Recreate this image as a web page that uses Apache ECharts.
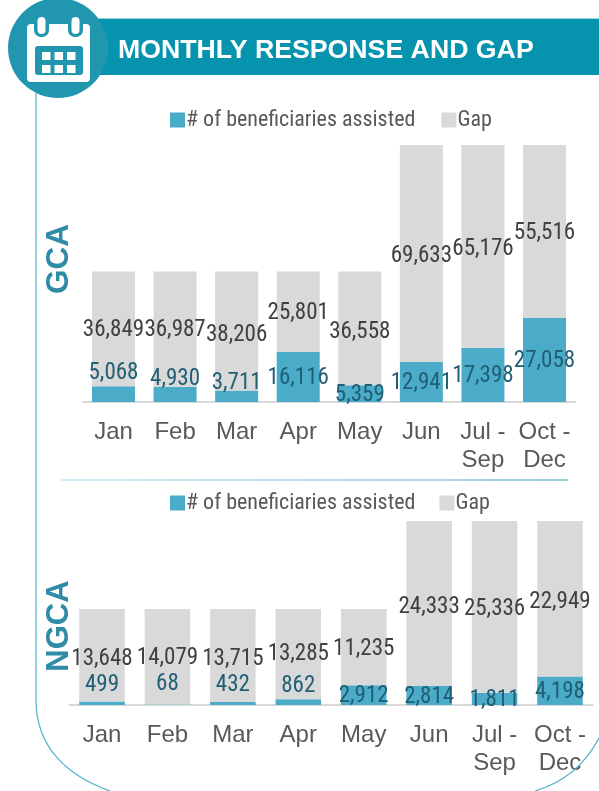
<!DOCTYPE html>
<html>
<head>
<meta charset="utf-8">
<title>Monthly response and gap</title>
<style>
html, body { margin: 0; padding: 0; background: #fff; }
#chart { width: 599px; height: 791px; }
</style>
<script src="https://cdn.jsdelivr.net/npm/echarts@6/dist/echarts.min.js"></script>
</head>
<body>
<div id="chart"></div>
<script>
const categories = ['Jan', 'Feb', 'Mar', 'Apr', 'May', 'Jun', 'Jul -\nSep', 'Oct -\nDec']

const gcaAssisted = [5068, 4930, 3711, 16116, 5359, 12941, 17398, 27058]
const gcaGap = [36849, 36987, 38206, 25801, 36558, 69633, 65176, 55516]
const ngcaAssisted = [499, 68, 432, 862, 2912, 2814, 1811, 4198]
const ngcaGap = [13648, 14079, 13715, 13285, 11235, 24333, 25336, 22949]

// hand placed labels in the original, vertical nudge in px
const gcaAssistedNudge = [-22, -17, -14, 0, 0, 0, 0, 0]
const gcaGapNudge = [0, 0, 3, 0, 2, 1, 1, 0]
const ngcaAssistedNudge = [-20, -22, -20, -17, 0, 0, 0, 0]
const ngcaGapNudge = [2, 0, 2, -1, 1, 2, 1, 2]

const FONT = '"Liberation Sans", Arial, sans-serif'
const NARROW = '"Roboto Condensed", "Liberation Sans", sans-serif'
const TEAL = '#4aacc8'
const GREY = '#d9d9d9'
const BAND = '#0593ae'
const CIRCLE = '#2197af'
const LINE = '#4fb0cc'

const fmt = v => v.toLocaleString('en-US')

function axes(gridIndex, max) {
    return {
        x: {
            type: 'category',
            gridIndex,
            data: categories,
            axisTick: { show: false },
            axisLine: { lineStyle: { color: GREY, width: 2 } },
            axisLabel: {
                interval: 0,
                margin: 16,
                color: '#595959',
                fontFamily: FONT,
                fontSize: 24,
                lineHeight: 28
            }
        },
        y: { type: 'value', gridIndex, min: 0, max, show: false }
    }
}

function pair(gridIndex, assisted, gap, assistedNudge, gapNudge, barWidth) {
    const point = (value, color, dy) => ({
        value,
        label: {
            show: true,
            position: 'inside',
            color,
            fontFamily: NARROW,
            fontSize: 23,
            offset: [0, dy + 1.5],
            formatter: p => fmt(p.value)
        }
    })
    return [{
        name: '# of beneficiaries assisted',
        type: 'bar',
        stack: 'g' + gridIndex,
        xAxisIndex: gridIndex,
        yAxisIndex: gridIndex,
        barWidth,
        itemStyle: { color: TEAL },
        data: assisted.map((v, i) => point(v, '#215f74', assistedNudge[i])),
        animation: false
    }, {
        name: 'Gap',
        type: 'bar',
        stack: 'g' + gridIndex,
        xAxisIndex: gridIndex,
        yAxisIndex: gridIndex,
        barWidth,
        itemStyle: { color: GREY },
        data: gap.map((v, i) => point(v, '#404040', gapNudge[i])),
        animation: false
    }]
}

const gcaAxes = axes(0, 82574)
const ngcaAxes = axes(1, 27147)

const legendBase = {
    data: ['# of beneficiaries assisted', 'Gap'],
    itemWidth: 15,
    itemHeight: 15,
    padding: 0,
    icon: 'rect',
    selectedMode: false,
    textStyle: { color: '#595959', fontFamily: NARROW, fontSize: 22, padding: [0, 0, 0, -4] }
}

const calendarCells = []
for (const y of [52, 65]) {
    for (const x of [42, 54.5, 67]) {
        calendarCells.push({ type: 'rect', z: 13, shape: { x, y, width: 8.5, height: 8 }, style: { fill: '#fff' } })
    }
}

const chart = echarts.init(document.getElementById('chart'), null, { renderer: 'canvas' })
chart.setOption({
    backgroundColor: '#fff',
    animation: false,
    legend: [
        { ...legendBase, left: 170, top: 109, itemGap: 26 },
        { ...legendBase, left: 170, top: 492, itemGap: 24 }
    ],
    grid: [
        { left: 82.7, width: 492.6, top: 145, height: 257 },
        { left: 69.3, width: 523.4, top: 521, height: 184 }
    ],
    xAxis: [gcaAxes.x, ngcaAxes.x],
    yAxis: [gcaAxes.y, ngcaAxes.y],
    series: [
        ...pair(0, gcaAssisted, gcaGap, gcaAssistedNudge, gcaGapNudge, 43),
        ...pair(1, ngcaAssisted, ngcaGap, ngcaAssistedNudge, ngcaGapNudge, 45.5)
    ],
    graphic: [
        { type: 'line', z: 1, shape: { x1: 36, y1: 90, x2: 36, y2: 700 }, style: { stroke: LINE, lineWidth: 1.2 } },
        { type: 'bezierCurve', z: 9, shape: { x1: 36, y1: 700, cpx1: 36, cpy1: 748, cpx2: 68, cpy2: 776, x2: 110, y2: 791 }, style: { stroke: LINE, lineWidth: 1.2, fill: 'none' } },
        { type: 'bezierCurve', z: 9, shape: { x1: 599, y1: 738, cpx1: 585, cpy1: 765, cpx2: 562, cpy2: 783, x2: 535, y2: 791 }, style: { stroke: LINE, lineWidth: 1.2, fill: 'none' } },
        {
            type: 'line', z: 1,
            shape: { x1: 61, y1: 480, x2: 568, y2: 480 },
            style: {
                lineWidth: 1.2,
                stroke: new echarts.graphic.LinearGradient(0, 0, 1, 0, [
                    { offset: 0, color: '#a9d8e6' },
                    { offset: 1, color: '#3f9fbb' }
                ])
            }
        },
        { type: 'rect', z: 10, shape: { x: 90, y: 19, width: 509, height: 56 }, style: { fill: BAND } },
        { type: 'line', z: 10, shape: { x1: 90, y1: 18.5, x2: 599, y2: 18.5 }, style: { stroke: '#9fd3e0', lineWidth: 1 } },
        { type: 'circle', z: 11, shape: { cx: 58, cy: 48, r: 50 }, style: { fill: CIRCLE } },
        // calendar icon
        { type: 'rect', z: 12, shape: { x: 27, y: 24, width: 63, height: 58, r: 4 }, style: { fill: '#fff' } },
        { type: 'rect', z: 12, shape: { x: 34, y: 14, width: 15, height: 23, r: 7 }, style: { fill: CIRCLE } },
        { type: 'rect', z: 12, shape: { x: 68, y: 14, width: 15, height: 23, r: 7 }, style: { fill: CIRCLE } },
        { type: 'rect', z: 13, shape: { x: 37.5, y: 17, width: 8, height: 17, r: 4 }, style: { fill: '#fff' } },
        { type: 'rect', z: 13, shape: { x: 71.5, y: 17, width: 8, height: 17, r: 4 }, style: { fill: '#fff' } },
        { type: 'rect', z: 12.5, shape: { x: 35, y: 46, width: 48, height: 29, r: 3 }, style: { fill: CIRCLE } },
        ...calendarCells,
        {
            type: 'text', z: 14, left: 118, top: 37,
            style: { text: 'MONTHLY RESPONSE AND GAP', fill: '#fff', fontFamily: FONT, fontWeight: 'bold', fontSize: 26.7 }
        },
        {
            type: 'text', z: 5, x: 59, y: 259, rotation: Math.PI / 2,
            style: { text: 'GCA', fill: '#2f8ba6', fontFamily: FONT, fontWeight: 'bold', fontSize: 31.5, align: 'center', verticalAlign: 'middle' }
        },
        {
            type: 'text', z: 5, x: 59, y: 626, rotation: Math.PI / 2,
            style: { text: 'NGCA', fill: '#2f8ba6', fontFamily: FONT, fontWeight: 'bold', fontSize: 31, align: 'center', verticalAlign: 'middle' }
        }
    ]
})
</script>
</body>
</html>
